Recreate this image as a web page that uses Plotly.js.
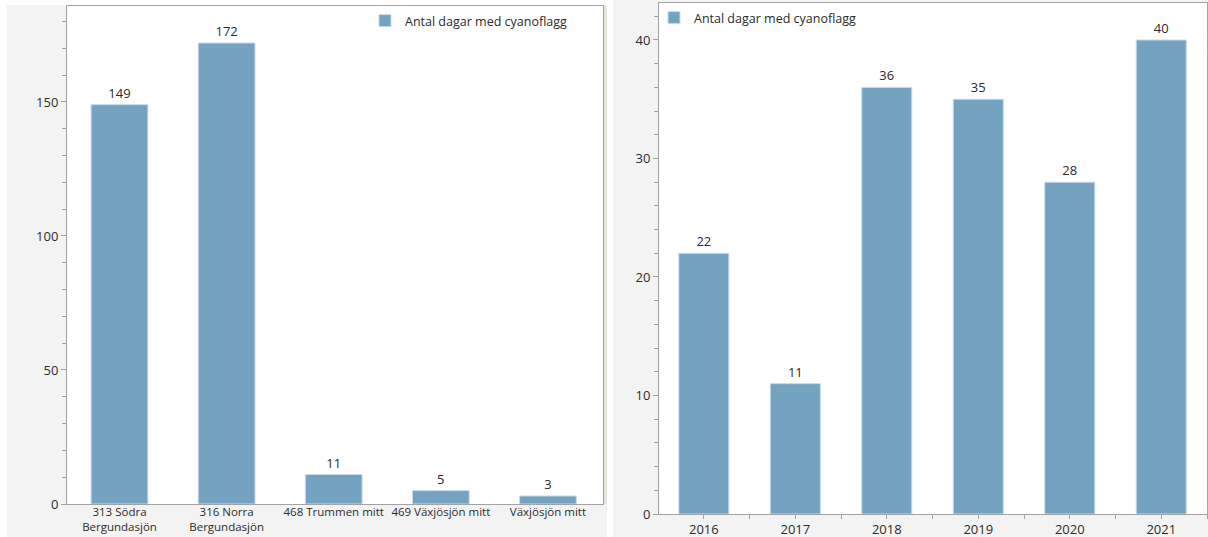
<!DOCTYPE html>
<html>
<head>
<meta charset="utf-8">
<script src="https://cdn.plot.ly/plotly-3.0.1.min.js"></script>
<style>html,body{margin:0;padding:0;background:#fff;}#chart{width:1208px;height:537px;}</style>
</head>
<body>
<div id="chart"></div>
<script>
// ---- data ----
const stations = ["313 Södra<br>Bergundasjön", "316 Norra<br>Bergundasjön", "468 Trummen mitt", "469 Växjösjön mitt", "Växjösjön mitt"];
const stationDays = [149, 172, 11, 5, 3];
const years = [2016, 2017, 2018, 2019, 2020, 2021];
const yearDays = [22, 11, 36, 35, 28, 40];
const seriesName = "Antal dagar med cyanoflagg";

// ---- styling helpers ----
const W = 1208, H = 537;
const px = x => x / W;
const py = y => 1 - y / H;
const barColor = "#74a3c2";
const edge = "#c9dbe8";
const axisCol = "#a3a3a3";
const txtCol = "#2b2b2b";
const panelCol = "#f3f3f3";
const FONT = "Open Sans, Noto Sans, sans-serif";

const yearTickVals = [];
const yearTickText = [];
years.forEach(y => { yearTickVals.push(y - 0.5, y); yearTickText.push("", String(y)); });
yearTickVals.push(years[years.length - 1] + 0.5); yearTickText.push("");

const traces = [
  {
    type: "bar", x: stations, y: stationDays, name: seriesName,
    xaxis: "x", yaxis: "y", width: 0.53,
    marker: {color: barColor, line: {color: edge, width: 1}},
    text: stationDays.map(String), textposition: "outside", cliponaxis: false,
    textfont: {family: FONT, size: 13, color: txtCol},
    legend: "legend", hoverinfo: "x+y"
  },
  {
    type: "bar", x: years, y: yearDays, name: seriesName,
    xaxis: "x2", yaxis: "y2", width: 0.547,
    marker: {color: barColor, line: {color: edge, width: 1}},
    text: yearDays.map(String), textposition: "outside", cliponaxis: false,
    textfont: {family: FONT, size: 13, color: txtCol},
    legend: "legend2", hoverinfo: "x+y"
  }
];

const L = {x0: 67, x1: 603, y0: 6, y1: 504};
const R = {x0: 659, x1: 1207, y0: 3, y1: 514};

const layout = {
  width: W, height: H,
  margin: {l: 0, r: 0, t: 0, b: 0},
  paper_bgcolor: panelCol,
  plot_bgcolor: "#ffffff",
  font: {family: FONT, size: 12, color: txtCol},
  bargap: 0,
  xaxis: {
    domain: [px(L.x0), px(L.x1)], type: "category", range: [-0.49, 4.514],
    showline: true, linecolor: axisCol, linewidth: 1, mirror: true,
    ticks: "", tickangle: 0, showgrid: false, zeroline: false, ticklabelstandoff: -3,
    tickfont: {family: FONT, size: 11.5, color: txtCol}, fixedrange: true
  },
  yaxis: {
    domain: [py(L.y1), py(L.y0)], range: [0, 185.8],
    showline: true, linecolor: axisCol, linewidth: 1, mirror: true,
    ticks: "outside", ticklen: 5, tickcolor: axisCol, dtick: 50, tick0: 0,
    minor: {dtick: 10, ticks: "outside", ticklen: 4, tickcolor: axisCol, showgrid: false},
    showgrid: false, zeroline: false,
    tickfont: {family: FONT, size: 13, color: txtCol}, fixedrange: true
  },
  xaxis2: {
    domain: [px(R.x0), px(R.x1)], type: "linear", range: [2015.51, 2021.5], anchor: "y2",
    showline: true, linecolor: axisCol, linewidth: 1, mirror: true,
    tickmode: "array", tickvals: yearTickVals, ticktext: yearTickText,
    ticks: "outside", ticklen: 4, tickcolor: axisCol, tickangle: 0, ticklabelstandoff: -1,
    showgrid: false, zeroline: false,
    tickfont: {family: FONT, size: 13, color: txtCol}, fixedrange: true
  },
  yaxis2: {
    domain: [py(R.y1), py(R.y0)], range: [0, 43.12], anchor: "x2",
    showline: true, linecolor: axisCol, linewidth: 1, mirror: true,
    ticks: "outside", ticklen: 5, tickcolor: axisCol, dtick: 10, tick0: 0,
    minor: {dtick: 2, ticks: "outside", ticklen: 4, tickcolor: axisCol, showgrid: false},
    showgrid: false, zeroline: false,
    tickfont: {family: FONT, size: 13, color: txtCol}, fixedrange: true
  },
  legend: {
    x: px(365), xanchor: "left", y: py(6), yanchor: "top",
    bgcolor: "rgba(0,0,0,0)", borderwidth: 0,
    font: {family: FONT, size: 12.5, color: txtCol}
  },
  legend2: {
    x: px(654), xanchor: "left", y: py(3), yanchor: "top",
    bgcolor: "rgba(0,0,0,0)", borderwidth: 0,
    font: {family: FONT, size: 12.5, color: txtCol}
  },
  shapes: [
    // white margins around the two grey panels
    {type: "rect", xref: "paper", yref: "paper", x0: 0, x1: px(7), y0: 0, y1: 1,
     fillcolor: "#ffffff", line: {width: 0}, layer: "below"},
    {type: "rect", xref: "paper", yref: "paper", x0: 0, x1: px(613), y0: py(5), y1: 1,
     fillcolor: "#ffffff", line: {width: 0}, layer: "below"},
    {type: "rect", xref: "paper", yref: "paper", x0: px(607), x1: px(613), y0: 0, y1: 1,
     fillcolor: "#ffffff", line: {width: 0}, layer: "below"},
    {type: "rect", xref: "paper", yref: "paper", x0: px(603.5), x1: px(607), y0: py(504), y1: py(6),
     fillcolor: "#e6e6dc", line: {width: 0}, layer: "below"},
    // white plot areas
    {type: "rect", xref: "paper", yref: "paper", x0: px(L.x0), x1: px(L.x1), y0: py(L.y1), y1: py(L.y0),
     fillcolor: "#ffffff", line: {width: 0}, layer: "below"},
    {type: "rect", xref: "paper", yref: "paper", x0: px(R.x0), x1: px(R.x1), y0: py(R.y1), y1: py(R.y0),
     fillcolor: "#ffffff", line: {width: 0}, layer: "below"}
  ],
  showlegend: true
};

Plotly.newPlot("chart", traces, layout, {displayModeBar: false, staticPlot: true});
</script>
</body>
</html>
